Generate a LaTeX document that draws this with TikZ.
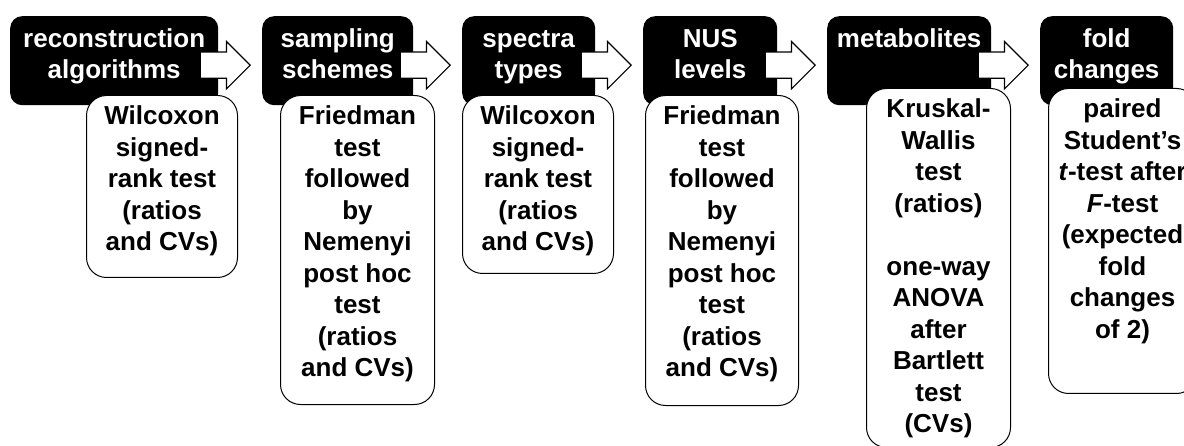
\documentclass[tikz,border=0pt]{standalone}
\usepackage{fontspec}
\setmainfont{Liberation Sans}
\usetikzlibrary{shapes.arrows}

% top aligned cell of fixed size
\newcommand{\cellbox}[3]{\parbox[t][#2][t]{#1}{\centering\strut #3}}

\begin{document}
\begin{tikzpicture}[x=1pt, y=-1pt,
    every node/.style={font=\fontsize{26}{31.5}\selectfont\bfseries},
    head/.style={fill=black, text=white, rounded corners=12pt, anchor=north west, inner xsep=0pt, inner ysep=9pt},
    test/.style={draw=black, fill=white, line width=1pt, rounded corners=20pt, anchor=north west, inner xsep=0pt, inner ysep=7pt},
    blockarrow/.style={single arrow, draw=black, fill=white, line width=1.2pt, minimum height=50pt, single arrow head extend=10.5pt, inner xsep=0pt, inner ysep=12.5pt, anchor=tip}]

        % Fix the page size
        \useasboundingbox (0,0) rectangle (1184,446);
        \clip (0,0) rectangle (1184,446);

        % Draw the black headers
        \node[head] (hd1) at (10,16) {\cellbox{208pt}{71pt}{reconstruction\\algorithms}};
        \node[head] (hd2) at (262,16) {\cellbox{151pt}{71pt}{sampling\\schemes}};
        \node[head] (hd3) at (462,16) {\cellbox{133pt}{71pt}{spectra\\types}};
        \node[head] (hd4) at (643,16) {\cellbox{134pt}{71pt}{NUS\\levels}};
        \node[head] (hd5) at (827,16) {\cellbox{164pt}{71pt}{metabolites}};
        \node[head] (hd6) at (1040,16) {\cellbox{133pt}{71pt}{fold\\changes}};

        % Draw the block arrows between the headers
        \foreach \a/\b in {hd1/hd2, hd2/hd3, hd3/hd4, hd4/hd5, hd5/hd6}
        {
          \node[blockarrow] (ar-\a) at ([xshift=-11pt, yshift=-4.5pt]\b.west) {};
        }

        % Draw the test boxes
        \node[test] (ts1) at (86,95) {\cellbox{151pt}{168pt}{Wilcoxon\\signed-\\rank test\\(ratios\\and CVs)}};
        \node[test] (ts2) at (280,95) {\cellbox{154pt}{295pt}{Friedman\\test\\followed\\by\\Nemenyi\\post hoc\\test\\(ratios\\and CVs)}};
        \node[test] (ts3) at (462,95) {\cellbox{151pt}{164pt}{Wilcoxon\\signed-\\rank test\\(ratios\\and CVs)}};
        \node[test] (ts4) at (645,95) {\cellbox{153pt}{296pt}{Friedman\\test\\followed\\by\\Nemenyi\\post hoc\\test\\(ratios\\and CVs)}};
        \node[test] (ts5) at (866,88) {\cellbox{144pt}{345pt}{Kruskal-\\Wallis\\test\\(ratios)\\[31.5pt]one-way\\ANOVA\\after\\Bartlett\\test\\(CVs)}};
        \node[test] (ts6) at (1048,88) {\cellbox{148pt}{291pt}{paired\\Student’s\\\textit{t}-test after\\\textit{F}-test\\(expected\\fold\\changes\\of 2)}};
      \end{tikzpicture}
\end{document}
